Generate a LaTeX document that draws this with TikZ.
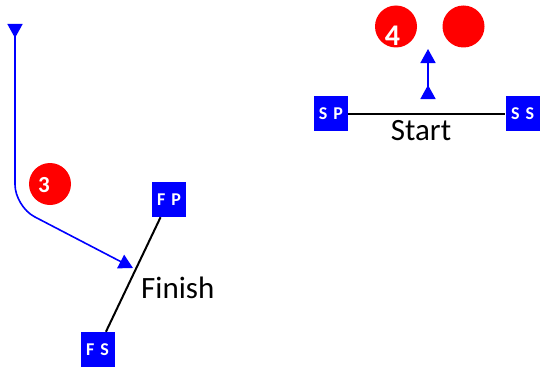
\documentclass[tikz,border=0pt]{standalone}
\usepackage{fontspec}
\setmainfont{Carlito}
\usetikzlibrary{arrows.meta}
\definecolor{pblue}{RGB}{0,0,255}
\definecolor{pred}{RGB}{255,0,0}
\newcommand{\flagtxt}[2]{#1\hspace{6pt}#2}
\begin{document}
\begin{tikzpicture}[x=1pt,y=-1pt,
  cone/.style={circle,fill=pred,minimum size=42pt,inner sep=0pt},
  num/.style={inner sep=0pt,text=white,font=\bfseries},
  flag/.style={rectangle,fill=pblue,minimum width=34pt,minimum height=35pt,inner sep=0pt,text=white,font=\fontsize{18}{18}\selectfont\bfseries},
  gate/.style={black,line width=2pt},
  route/.style={pblue,line width=1.6pt},
  lbl/.style={inner sep=0pt,anchor=base west,font=\fontsize{31}{31}\selectfont}]
\useasboundingbox (0,0) rectangle (540,369);
% cones
\node[cone] (c3) at (50,184) {};
\node[num,font=\fontsize{23}{23}\selectfont\bfseries] (n3) at (44,185) {3};
\node[cone] (c4) at (396,26.5) {};
\node[num,font=\fontsize{30}{30}\selectfont\bfseries] (n4) at (392.5,35.5) {4};
\node[cone] (c5) at (463.5,26.5) {};
% finish gate
\node[flag] (fp) at (169,199.5) {\flagtxt{F}{P}};
\node[flag] (fs) at (97.5,349.5) {\flagtxt{F}{S}};
\draw[gate] (fp) -- (fs);
\node[lbl] (fin) at (141,298) {Finish};
% start gate
\node[flag] (sp) at (331,113.5) {\flagtxt{S}{P}};
\node[flag] (ss) at (522.5,113.5) {\flagtxt{S}{S}};
\draw[gate] (sp) -- (ss);
\node[lbl,anchor=base] (st) at (421,140) {Start};
% routes
\coordinate (r1s) at (15,24);
\coordinate (r1c) at (15,206.6);
\coordinate (r1e) at (133,268);
\draw[route,rounded corners=22pt,{Triangle[reversed,length=14pt,width=15pt]}-{Triangle[length=14pt,width=15pt]}] (r1s) -- (r1c) -- (r1e);
\coordinate (r2s) at (428,99);
\coordinate (r2e) at (428,49);
\draw[route,{Triangle[reversed,length=14pt,width=15pt]}-{Triangle[length=14pt,width=15pt]}] (r2s) -- (r2e);
\end{tikzpicture}
\end{document}
